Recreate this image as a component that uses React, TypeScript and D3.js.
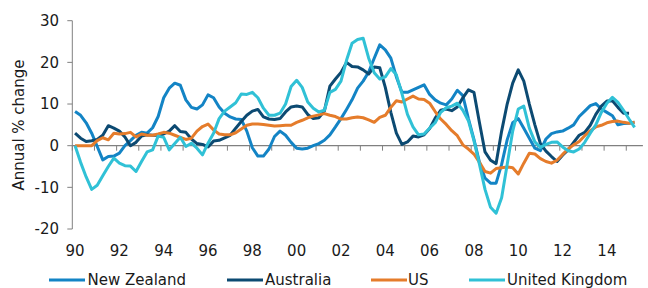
import React from "react";
import * as d3 from "d3";

const years: number[] = d3.range(1990, 2016);
const quarterCount = 103; // 1990Q1 .. 2015Q3 category slots
const xTickLabels = ["90", "92", "94", "96", "98", "00", "02", "04", "06", "08", "10", "12", "14"];
const yTicks = [-20, -10, 0, 10, 20, 30];

const newZealand = [
  8.2, 7.3, 5.5, 3, -0.2, -3.4, -2.6, -2.5, -1.8, 0, 1.2, 2.5, 3.2, 3, 4.3, 7,
  11.5, 13.8, 15, 14.5, 11, 9.2, 8.8, 9.8, 12.2, 11.5, 9.3, 7.8, 6.9, 6.4, 6.3, 3.5,
  -0.5, -2.5, -2.5, -0.8, 2.2, 3.5, 2.5, 0.8, -0.6, -0.8, -0.6, 0, 0.5, 1.3, 2.6, 4.5,
  6.5, 8.7, 11, 13.8, 15.5, 17.7, 21, 24.2, 23, 21, 16.5, 12.8, 12.8, 13.4, 14, 14.6,
  12.3, 11, 10.2, 9.8, 11.2, 13.3, 12, 6.5, 1.5, -4, -7.8, -9, -9, -4.5, 1.4, 5.5,
  6.5, 4.2, 1.8, -0.6, -1.2, 1.6, 2.9, 3.3, 3.5, 4.2, 5, 7, 8.3, 9.6, 10.1, 8.8,
  8, 7.2, 5, 5.3, 5.4, 5.6,
];

const australia = [
  3, 1.8, 1, 1.2, 1.5, 2.5, 4.8, 4.2, 3.5, 2.1, 0, 0.8, 2.3, 2.6, 2.5, 2.5,
  2.8, 3.5, 4.8, 3.4, 3.2, 1.6, 0.5, 0.3, -0.3, 1.1, 1.3, 1.9, 2.5, 4.2, 5.8, 7.3,
  8.3, 8.7, 6.9, 6.4, 6.3, 6.5, 8.1, 9.3, 9.5, 9.3, 7.5, 6.5, 6.7, 8.3, 14.3, 16,
  17.6, 20, 19, 18.9, 18.2, 17.2, 18.9, 18.7, 14, 8, 3, 0.3, 0.9, 2.3, 2.1, 2.6,
  4.1, 6.6, 8.5, 8.8, 8.4, 9.3, 11.5, 13.4, 12.8, 5.5, -1.5, -3.5, -4.3, 3.5, 10, 15,
  18.2, 15.5, 10, 5, 0.5, -1.3, -2.6, -3.8, -2.3, -1, 0.8, 2.5, 3.2, 4.9, 7.5, 9.5,
  10.7, 10.8, 9.2, 7.8, 7.8,
];

const us = [
  0, 0, 0, 0, 1.2, 1.9, 1.4, 3, 2.8, 2.9, 3.2, 2.1, 2.8, 2.5, 2.5, 2.8,
  3.2, 3, 2.5, 2, 1.5, 1.8, 3.5, 4.6, 5.2, 3.8, 2.8, 2.6, 2.6, 3.1, 4, 4.9,
  5.2, 5.2, 5.1, 4.9, 4.7, 4.8, 4.9, 4.9, 5.6, 6.1, 6.7, 7.1, 7.4, 7.7, 7.3, 7,
  6.4, 6.4, 6.7, 6.9, 6.7, 6.2, 5.6, 6.8, 7.3, 9.2, 10.8, 10.5, 11.2, 11.9, 11.2, 11.1,
  10.2, 8.2, 6.4, 5.1, 3.6, 2.4, 0.2, -0.8, -2, -4, -6.2, -6.6, -5.5, -5.3, -5.1, -5.3,
  -6.8, -4.2, -1.8, -2, -3.1, -3.8, -4.2, -3.5, -2.1, -0.8, 0.2, 1, 2.4, 3.6, 4.5, 4.9,
  5.5, 5.8, 5.9, 5.6, 5.4, 5.6,
];

const unitedKingdom = [
  0, -4, -7.5, -10.5, -9.5, -7.2, -5, -3, -4.2, -4.8, -4.9, -6.2, -3.8, -1.5, -1, 2.3,
  2, -1, 0.5, 2, -0.2, 0.6, -0.6, -2.2, 0.6, 3, 6.5, 8.3, 9.3, 10.3, 12.4, 12.3,
  12.8, 11.5, 9, 7.3, 7.3, 7.8, 10, 14.2, 15.7, 14, 10.5, 9, 8.1, 8.5, 12.8, 13.5,
  15.5, 20.5, 24.6, 25.5, 25.8, 21, 17.5, 16, 16.5, 18.5, 17, 12.5, 7.5, 4.5, 2.6, 2.8,
  4.2, 5.5, 8, 9.1, 9.5, 10.2, 8.5, 6, 1.2, -4.5, -10.5, -14.8, -16.2, -12.5, -4.5, 3.5,
  8.8, 9.5, 4.2, 0.9, -0.4, 0.3, 0.8, 0.9, -0.3, -1.2, -1.5, -0.8, 0.8, 3, 5, 8,
  10.2, 11.6, 10.4, 8.5, 6.4, 4.4,
];

const seriesNames = ["New Zealand", "Australia", "US", "United Kingdom"];
const seriesColors = ["#1384C5", "#0C4A72", "#E57C2B", "#30C1D6"];
const seriesData = [newZealand, australia, us, unitedKingdom];

export default function App() {
  const width = 648;
  const height = 288;
  const left = 72.3;
  const right = 642.9;
  const top = 20.7;
  const bottom = 229;

  const x = d3
    .scaleBand<number>()
    .domain(d3.range(quarterCount))
    .range([left, right])
    .padding(0);
  const bw = x.bandwidth();
  const y = d3.scaleLinear().domain([-20, 30]).range([bottom, top]);

  const line = d3
    .line<number>()
    .x((_, i) => (x(i) as number) + bw / 2)
    .y((d) => y(d));

  const font = "'DejaVu Sans', Verdana, sans-serif";
  const textColor = "#1a1a1a";
  const axisColor = "#808080";
  const y0 = y(0);

  const legendItems = [
    { lx: 49, tx: 87.5 },
    { lx: 227, tx: 265 },
    { lx: 371, tx: 408 },
    { lx: 469, tx: 507 },
  ];

  return (
    <svg
      width={width}
      height={height}
      style={{ position: "absolute", left: 0, top: 0, background: "#fff" }}
    >
      {/* y axis */}
      <line x1={left} x2={left} y1={top} y2={bottom} stroke={axisColor} strokeWidth={1} />
      {yTicks.map((t) => (
        <g key={t}>
          <line x1={left - 5} x2={left} y1={y(t)} y2={y(t)} stroke={axisColor} strokeWidth={1} />
          <text
            x={59}
            y={y(t)}
            dy="0.36em"
            textAnchor="end"
            fontFamily={font}
            fontSize={15}
            fill={textColor}
          >
            {t}
          </text>
        </g>
      ))}
      <text
        transform={`translate(19,125) rotate(-90)`}
        dy="0.36em"
        textAnchor="middle"
        fontFamily={font}
        fontSize={15}
        fill={textColor}
      >
        Annual % change
      </text>

      {/* x axis at zero */}
      <line x1={left} x2={right} y1={y0} y2={y0} stroke={axisColor} strokeWidth={1.2} />
      {years.map((yr, k) => {
        const xi = x(k * 4) as number;
        return (
          <line key={yr} x1={xi} x2={xi} y1={y0} y2={y0 + 5} stroke={axisColor} strokeWidth={1} />
        );
      })}
      {xTickLabels.map((lab, k) => {
        const xi = (x(k * 8) as number) + bw / 2;
        return (
          <text
            key={lab + k}
            x={xi}
            y={256}
            textAnchor="middle"
            fontFamily={font}
            fontSize={15}
            fill={textColor}
          >
            {lab}
          </text>
        );
      })}

      {/* series */}
      {seriesData.map((s, k) => (
        <path
          key={seriesNames[k]}
          d={line(s) || ""}
          fill="none"
          stroke={seriesColors[k]}
          strokeWidth={3}
          strokeLinejoin="round"
          strokeLinecap="butt"
        />
      ))}

      {/* legend */}
      {seriesNames.map((n, k) => (
        <g key={n}>
          <line
            x1={legendItems[k].lx}
            x2={legendItems[k].lx + 36}
            y1={280}
            y2={280}
            stroke={seriesColors[k]}
            strokeWidth={3}
          />
          <text
            x={legendItems[k].tx}
            y={280}
            dy="0.36em"
            fontFamily={font}
            fontSize={15}
            fill={textColor}
          >
            {n}
          </text>
        </g>
      ))}
    </svg>
  );
}
